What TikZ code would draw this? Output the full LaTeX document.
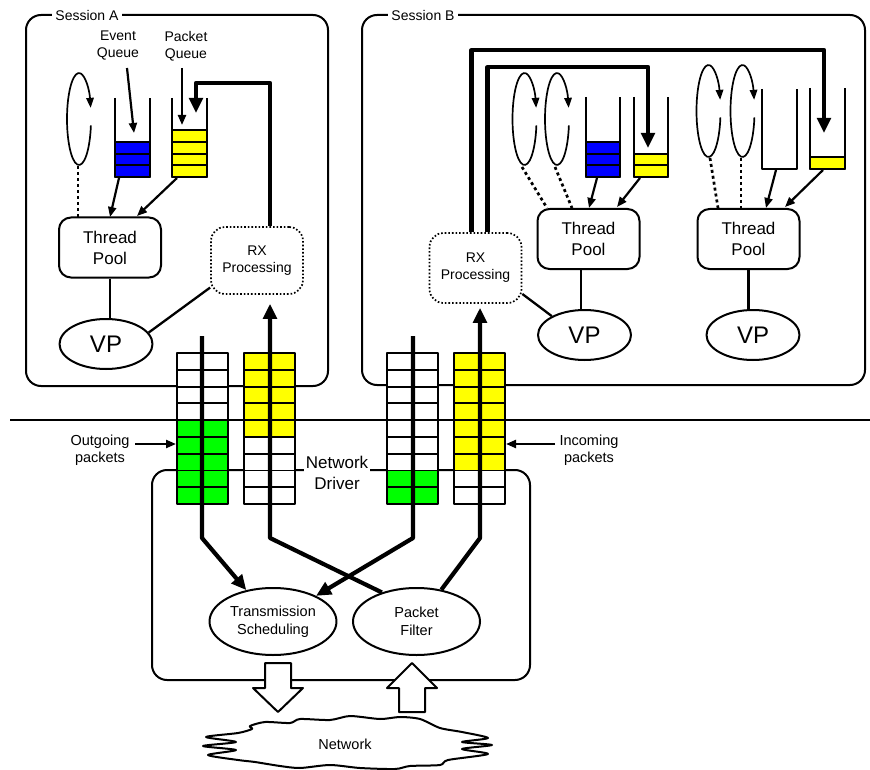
\documentclass[tikz,border=0pt]{standalone}
\usepackage{fontspec}
\setmainfont{Liberation Sans}
\usetikzlibrary{arrows.meta,shapes.geometric,calc}
\definecolor{pgreen}{RGB}{0,255,0}
\definecolor{pyellow}{RGB}{255,255,0}
\definecolor{pblue}{RGB}{0,0,255}
\newcommand\pcol[4]{%
  \foreach \i in {0,...,8}{%
    \ifnum\i<#2\relax\def\fc{white}\else\ifnum\i>#3\relax\def\fc{white}\else\def\fc{#4}\fi\fi
    \filldraw[cell, fill=\fc] (#1,{353+\i*16.78}) rectangle ++(25.5,16.78);
    \filldraw[cell, fill=\fc] ({#1+25.5},{353+\i*16.78}) rectangle ++(25.5,16.78);
  }}
\newcommand\pqueue[6]{%
  \ifnum#5>0
   \foreach \k in {1,...,#5}{\filldraw[cell, fill=#6] (#1,{#4-\k*11.7}) rectangle (#2,{#4-(\k-1)*11.7});}
  \fi
  \draw[wall] (#1,#3) -- (#1,#4) -- (#2,#4) -- (#2,#3);}
\newcommand\ploop[2]{\draw[loopst] (#1,#2) ++(8:12 and 46) arc[start angle=8,end angle=346,x radius=12,y radius=46];}
\begin{document}
\begin{tikzpicture}[x=1pt,y=-1pt,line join=round,
  boxline/.style={line width=2pt},
  cell/.style={line width=1.9pt, draw=black},
  wall/.style={line width=2pt},
  loopst/.style={line width=1.7pt, -{Triangle[length=10pt,width=7.5pt]}},
  title/.style={fill=white, inner sep=3pt, font=\fontsize{14}{16}\selectfont},
  lbl/.style={align=center, inner sep=1pt, font=\fontsize{14}{17}\selectfont},
  tpool/.style={draw, line width=2pt, rounded corners=12pt, minimum width=102pt, minimum height=60pt, align=center, font=\fontsize{17}{21}\selectfont},
  vpnode/.style={draw, ellipse, line width=2pt, minimum width=93pt, minimum height=50pt, inner sep=0pt, font=\fontsize{24}{26}\selectfont},
  rxbox/.style={draw, line width=1.7pt, dash pattern=on 1.6pt off 2pt, rounded corners=14pt, minimum width=92pt, align=center, font=\fontsize{14}{17}\selectfont},
  drvell/.style={draw, ellipse, line width=2pt, minimum width=127pt, minimum height=67pt, inner sep=0pt, align=center, font=\fontsize{14.5}{18}\selectfont},
  smallarrow/.style={line width=2.2pt, -{Triangle[length=10pt,width=8pt]}},
  bigarrow/.style={line width=4.2pt, -{Triangle[length=15pt,width=13.5pt]}},
  plainline/.style={line width=2.3pt},
  dotline/.style={line width=2.7pt, dash pattern=on 3pt off 3pt},
  blockarrow/.style={draw, fill=white, line width=2pt}]
\useasboundingbox (0,0) rectangle (870,770);

% session boxes
\draw[boxline, rounded corners=15pt] (26,15) rectangle (328,386);
\node[title] (sessA) at (87,15) {Session A};
\draw[boxline, rounded corners=15pt] (362,15) rectangle (865,385);
\node[title] (sessB) at (423,15) {Session B};

% separator
\draw[line width=2.2pt] (10,420) -- (870,420);

% network driver box
\draw[boxline, rounded corners=15pt] (152,470) rectangle (530,680);

% block arrows
\draw[blockarrow] (265,663) -- (291,663) -- (291,688) -- (303,688) -- (278,712) -- (253,688) -- (265,688) -- cycle;
\draw[blockarrow] (399,712) -- (425,712) -- (425,688) -- (437,688) -- (412,663) -- (387,688) -- (399,688) -- cycle;

% network cloud
\draw[line width=2pt, fill=white] plot[smooth cycle, tension=0.45] coordinates {
 (250,726) (265,722) (290,723) (300,719) (330,720) (350,716) (380,719) (400,717) (420,719)
 (440,728) (462,732) (488,738) (462,742) (492,745) (462,749) (488,754) (448,760) (440,765)
 (410,766) (395,769) (360,768) (330,765) (300,768) (280,766) (255,762) (238,760) (208,755)
 (236,750) (203,746) (236,742) (206,737) (238,733) (252,729)};
\node[lbl, font=\fontsize{14.5}{17}\selectfont] (net) at (345,744) {Network};

% packet columns
\pcol{177}{4}{8}{pgreen}
\pcol{244}{0}{4}{pyellow}
\pcol{387}{7}{8}{pgreen}
\pcol{454}{0}{6}{pyellow}

\node[lbl, fill=white, inner sep=2pt, font=\fontsize{17}{21}\selectfont] (drv) at (337,473) {Network\\Driver};

% outgoing / incoming labels
\node[lbl, font=\fontsize{14.5}{17}\selectfont] (outg) at (100,450) {Outgoing\\packets};
\node[lbl, font=\fontsize{14.5}{17}\selectfont] (inc) at (589,450) {Incoming\\packets};
\coordinate (outgS) at (135,444); \coordinate (outgE) at (176,444);
\coordinate (incS) at (555,444); \coordinate (incE) at (506,444);
\draw[smallarrow] (outgS) -- (outgE);
\draw[smallarrow] (incS) -- (incE);

% driver ellipses
\node[drvell] (ts) at (273,621.5) {Transmission\\Scheduling};
\node[drvell] (pf) at (416.5,621.5) {Packet\\Filter};

% ---------- Session A ----------
\node[tpool] (tpA) at (110,247.5) {Thread\\Pool};
\node[vpnode] (vpA) at (106,344) {VP};
\node[rxbox, minimum height=67pt] (rxA) at (257,260.5) {RX\\Processing};

\ploop{79}{119}
\pqueue{115}{150}{98}{177}{3}{pblue}
\pqueue{172}{207}{98}{177}{4}{pyellow}

\node[lbl] (evqA) at (118,46) {Event\\Queue};
\node[lbl] (pkqA) at (186,46) {Packet\\Queue};
\coordinate (evqAs) at (127,68); \coordinate (evqAe) at (134,133);
\coordinate (pkqAs) at (182,68); \coordinate (pkqAe) at (182,125);
\draw[smallarrow] (evqAs) -- (evqAe);
\draw[smallarrow] (pkqAs) -- (pkqAe);

\coordinate (lpA) at (78,166); \coordinate (tpAd) at (78,218);
\draw[dotline] (lpA) -- (tpAd);
\coordinate (qAe) at (119,178); \coordinate (tpAe) at (110,217);
\coordinate (qAp) at (177,178); \coordinate (tpAp) at (137,216);
\draw[smallarrow] (qAe) -- (tpAe);
\draw[smallarrow] (qAp) -- (tpAp);

\draw[plainline] (tpA.south) -- (tpA.south |- vpA.north);
\draw[plainline] (vpA.15) -- (rxA.210);

% ---------- Session B ----------
\node[rxbox, minimum height=70pt] (rxB) at (475.5,268) {RX\\Processing};
\node[tpool] (tpB1) at (588.5,239) {Thread\\Pool};
\node[vpnode] (vpB1) at (584.5,335) {VP};
\node[tpool] (tpB2) at (748.5,239) {Thread\\Pool};
\node[vpnode] (vpB2) at (753,335) {VP};

\ploop{524.5}{119}
\ploop{557}{119}
\pqueue{586}{620}{97}{177}{3}{pblue}
\pqueue{634}{668}{97}{177}{2}{pyellow}
\ploop{708.5}{111}
\ploop{742.5}{111}
\pqueue{762}{797}{89}{169}{0}{pyellow}
\pqueue{810}{845}{88}{169}{1}{pyellow}

\coordinate (lb1) at (522,167); \coordinate (lb1e) at (547,208);
\coordinate (lb2) at (555,167); \coordinate (lb2e) at (572,208);
\coordinate (lb3) at (710,158); \coordinate (lb3e) at (718,208);
\coordinate (lb4) at (741,158); \coordinate (lb4e) at (741,208);
\draw[dotline] (lb1) -- (lb1e);
\draw[dotline] (lb2) -- (lb2e);
\draw[dotline] (lb3) -- (lb3e);
\draw[dotline] (lb4) -- (lb4e);

\coordinate (qB1e) at (597,178); \coordinate (tpB1e) at (589,208);
\coordinate (qB1p) at (640,178); \coordinate (tpB1p) at (617,207);
\coordinate (qB2e) at (776,170); \coordinate (tpB2e) at (766,208);
\coordinate (qB2p) at (823,170); \coordinate (tpB2p) at (785,207);
\draw[smallarrow] (qB1e) -- (tpB1e);
\draw[smallarrow] (qB1p) -- (tpB1p);
\draw[smallarrow] (qB2e) -- (tpB2e);
\draw[smallarrow] (qB2p) -- (tpB2p);

\coordinate (b1l) at (581,0);
\draw[plainline] (tpB1.south -| b1l) -- (vpB1.north -| b1l);
\draw[plainline] (tpB2.south) -- (tpB2.south |- vpB2.north);
\draw[plainline] (rxB.-29) -- (vpB1.150);

% ---------- thick packet paths ----------
\coordinate (c1top) at (202,336); \coordinate (c1bend) at (202,538);
\coordinate (c2bend) at (270,538);
\coordinate (c3top) at (413,336); \coordinate (c3bend) at (413,538);
\coordinate (c4bend) at (480,538);
\draw[bigarrow] (c1top) -- (c1bend) -- (ts);
\draw[bigarrow] (c3top) -- (c3bend) -- (ts);
\draw[bigarrow, shorten >=9pt] (pf.140) -- (c2bend) -- (c2bend |- rxA.south);
\draw[bigarrow, shorten >=4pt] (pf.52) -- (c4bend) -- (c4bend |- rxB.south);

\coordinate (qApin) at (196,113);
\draw[bigarrow] (rxA.north -| c2bend) -- (270,83) -- (196,83) -- (qApin);
\coordinate (qB1pin) at (648,148);
\coordinate (qB2pin) at (824,133);
\draw[bigarrow] ($(rxB.north)+(-4,0)$) -- (471.5,50) -- (824,50) -- (qB2pin);
\draw[bigarrow] ($(rxB.north)+(12,0)$) -- (487.5,67) -- (648,67) -- (qB1pin);
\end{tikzpicture}
\end{document}
